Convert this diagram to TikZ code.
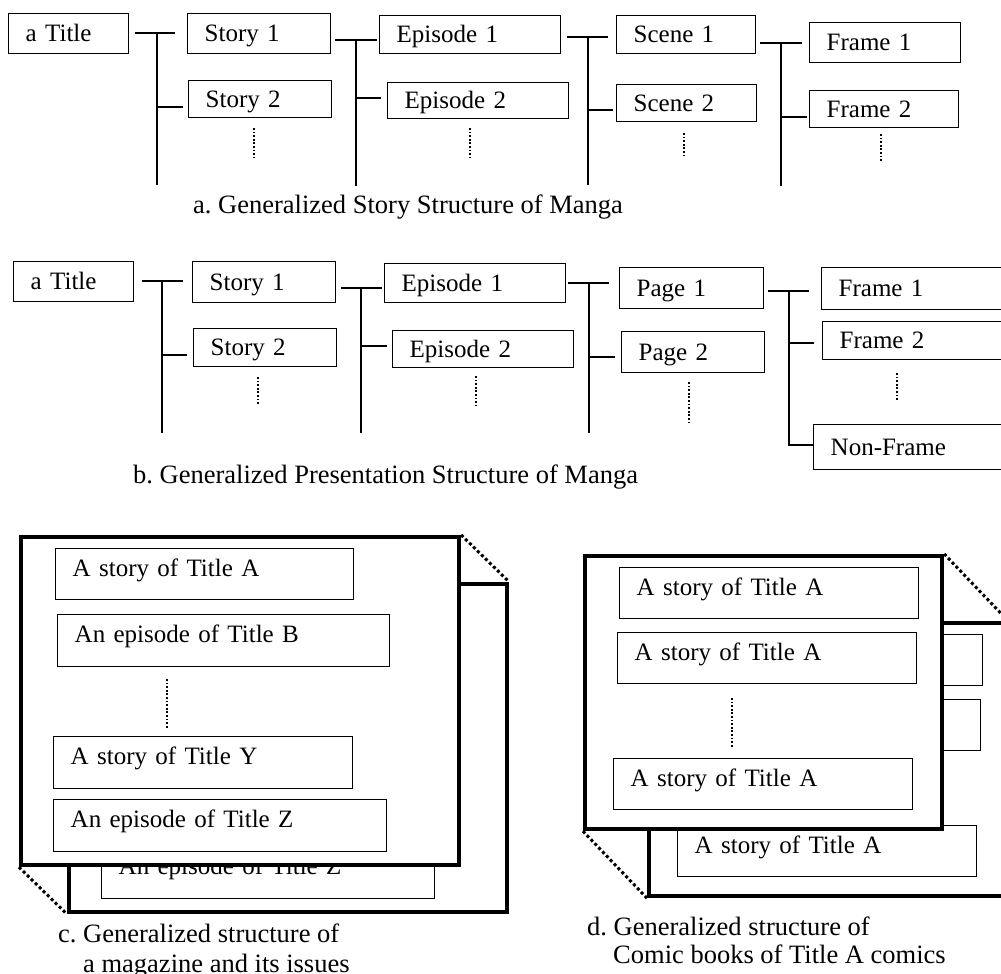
\documentclass[tikz,border=0pt]{standalone}
\usepackage{fontspec}
\setmainfont{Liberation Serif}
\frenchspacing
\tikzset{
 box/.style={draw, line width=1.4pt, rectangle, inner ysep=0pt, align=left, font=\fontsize{25}{30}\selectfont},
 capc/.style={text height=16.5pt, text depth=0pt},
 lowc/.style={text height=12pt, text depth=8pt},
 conn/.style={line width=1.8pt},
 vdots/.style={line width=2.2pt, dash pattern=on 1.8pt off 1.8pt},
 pageframe/.style={draw, line width=4.2pt, fill=white, inner sep=0pt},
 pagelink/.style={line width=3pt, dash pattern=on 3pt off 2.6pt},
 captxt/.style={inner sep=0pt, anchor=base west, font=\fontsize{26.5}{30}\selectfont}
}
% box: [style]{name}{x1}{y1}{x2}{y2}{text}
\newcommand\bx[7][capc]{%
 \pgfmathsetmacro\bxw{#5-#3}\pgfmathsetmacro\bxh{#6-#4}\pgfmathsetmacro\bxt{#5-#3-34}%
 \node[box,#1,anchor=north west,minimum width=\bxw pt,minimum height=\bxh pt,inner xsep=17pt,text width=\bxt pt] (#2) at (#3,#4) {#7};}
% bracket: {prefix}{xs}{yh}{xe}{xv}{ybottom}{ybranch}{xbranchend}
\newcommand\brk[8]{%
 \coordinate (#1s) at (#2,#3); \coordinate (#1e) at (#4,#3);
 \coordinate (#1t) at (#5,#3); \coordinate (#1b) at (#5,#6);
 \coordinate (#1r) at (#8,#7);
 \draw[conn] (#1s) -- (#1e);
 \draw[conn] (#1t) -- (#1b);
 \draw[conn] (#1t |- #1r) -- (#1r);}
\newcommand\pagec{%
 \node[pageframe, anchor=north west, minimum width=438pt, minimum height=328pt] (cf) at (19,535) {};
 \bx[lowc]{cA}{55}{548}{353}{599}{A story of Title A}
 \bx[lowc]{cB}{57}{614}{389}{666}{An episode of Title B}
 \draw[vdots] (167,679) -- (167,728);
 \bx[lowc]{cY}{53}{736}{352}{788}{A story of Title Y}
 \bx[lowc]{cZ}{53}{799}{386}{851}{An episode of Title Z}}
\newcommand\paged{%
 \node[pageframe, anchor=north west, minimum width=357pt, minimum height=273pt] (df) at (583,554) {};
 \bx[lowc]{dA}{619}{567}{918}{618}{A story of Title A}
 \bx[lowc]{dB}{617}{632}{916}{683}{A story of Title A}
 \draw[vdots] (732,698) -- (732,748);
 \bx[lowc]{dC}{613}{758}{912}{809}{A story of Title A}}
\begin{document}
\begin{tikzpicture}[x=1pt,y=-1pt]
\useasboundingbox (0,0) rectangle (1001,974);
% ---------- a ----------
\bx{ta}{8}{13}{128}{53}{a Title}
\bx{sa1}{187}{13}{330}{53}{Story 1}
\bx{sa2}{188}{80}{331}{117}{Story 2}
\bx{ea1}{379}{15}{560}{53}{Episode 1}
\bx{ea2}{387}{82}{568}{118}{Episode 2}
\bx{sc1}{616}{15}{755}{53}{Scene 1}
\bx{sc2}{616}{84}{756}{121}{Scene 2}
\bx{fa1}{809}{22}{960}{62}{Frame 1}
\bx{fa2}{809}{90}{958}{127}{Frame 2}
\brk{a1}{135}{33}{175}{157}{185}{107}{183}
\brk{a2}{335}{40}{377}{356}{186}{98}{381}
\brk{a3}{567}{37}{608}{588}{185}{110}{613}
\brk{a4}{760}{43}{802}{781}{186}{117}{807}
\draw[vdots] (254,128) -- (254,158);
\draw[vdots] (470,128) -- (470,157);
\draw[vdots] (684,133) -- (684,156);
\draw[vdots] (881,134) -- (881,161);
\node[captxt] (capa) at (193,213) {a. Generalized Story Structure of Manga};
% ---------- b ----------
\bx{tb}{13}{261}{133}{301}{a Title}
\bx{sb1}{192}{261}{335}{302}{Story 1}
\bx{sb2}{193}{328}{336}{366}{Story 2}
\bx{eb1}{384}{263}{565}{302}{Episode 1}
\bx{eb2}{392}{330}{573}{367}{Episode 2}
\bx{pg1}{619}{267}{763}{308}{Page 1}
\bx{pg2}{621}{331}{764}{372}{Page 2}
\bx{fb1}{821}{267}{1006}{309}{Frame 1}
\bx{fb2}{822}{321}{1006}{359}{Frame 2}
\bx{nf}{813}{424}{1006}{469}{Non-Frame}
\brk{b1}{142}{281}{183}{162}{433}{355}{187}
\brk{b2}{341}{288}{382}{361}{433}{346}{387}
\brk{b3}{568}{283}{609}{589}{433}{357}{615}
\coordinate (b4s) at (768,291); \coordinate (b4e) at (809,291);
\coordinate (b4t) at (789,291); \coordinate (b4r) at (814,343);
\coordinate (b4n) at (813,445);
\draw[conn] (b4s) -- (b4e);
\draw[conn] (b4t) |- (b4n);
\draw[conn] (b4t |- b4r) -- (b4r);
\draw[vdots] (258,377) -- (258,405);
\draw[vdots] (476,376) -- (476,405);
\draw[vdots] (689,382) -- (689,425);
\draw[vdots] (897,373) -- (897,401);
\node[captxt] (capb) at (133,483) {b. Generalized Presentation Structure of Manga};
% ---------- c ----------
\begin{scope}[shift={(48,47)}, name prefix=bk-]\pagec\end{scope}
\pagec
\draw[pagelink] (cf.north east) -- (bk-cf.north east);
\draw[pagelink] (cf.south west) -- (bk-cf.south west);
\node[captxt] (capc1) at (58,942) {c. Generalized structure of};
\node[captxt] (capc2) at (83,972) {a magazine and its issues};
% ---------- d ----------
\begin{scope}[shift={(64,67)}, name prefix=bk-]\paged\end{scope}
\paged
\draw[pagelink] (df.north east) -- (bk-df.north east);
\draw[pagelink] (df.south west) -- (bk-df.south west);
\node[captxt] (capd1) at (587,935) {d. Generalized structure of};
\node[captxt] (capd2) at (613,963) {Comic books of Title A comics};
\end{tikzpicture}
\end{document}
